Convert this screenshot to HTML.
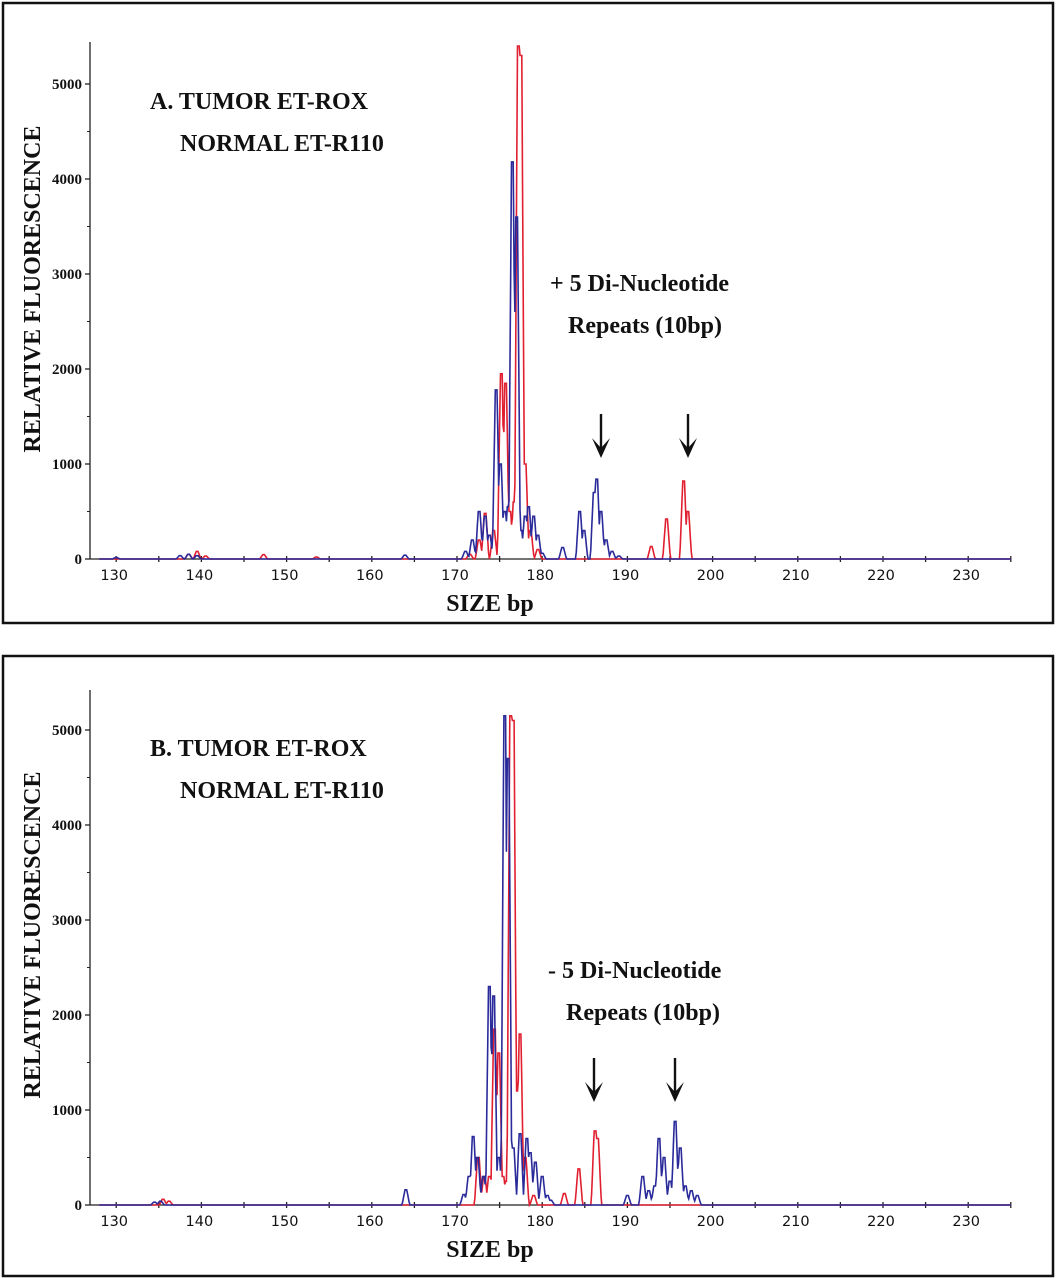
<!DOCTYPE html>
<html><head><meta charset="utf-8"><style>
html,body{margin:0;padding:0;background:#fff;}
svg{display:block;}
.tl{font-family:"DejaVu Sans","Liberation Sans",sans-serif;font-size:14.5px;fill:#111;}
.yl{font-family:"Liberation Serif",serif;font-weight:bold;font-size:15px;fill:#111;}
.tt{font-family:"Liberation Serif",serif;font-weight:bold;font-size:24px;fill:#111;}
</style></head><body>
<svg id="chart" width="1057" height="1280"></svg>
<script>
const xTicks=[130,140,150,160,170,180,190,200,210,220,230];
const yTicks=[0,1000,2000,3000,4000,5000];
// Panel A peaks: [bp center, height]
const aBluePeaks=[[130,15],[137.5,35],[138.5,50],[139.5,35],[163.9,40],[171,80],[171.8,200],[172.6,500],[173.3,450],[173.8,250],[174.6,1780],[175.1,1000],[175.6,500],[176,550],[176.5,4180],[177,3600],[177.5,300],[178,450],[178.4,550],[179,450],[179.5,250],[180,60],[182.4,120],[184.4,500],[184.9,300],[186.1,700],[186.4,840],[186.9,500],[187.5,200],[188.2,80],[189,30]];
const aRedPeaks=[[138.5,50],[139.5,80],[140.5,30],[147.3,45],[153.5,20],[171.5,50],[172.6,200],[173.3,480],[174.3,300],[175.2,1950],[175.7,1850],[176.2,500],[176.7,600],[177.2,5400],[177.5,5300],[178,1000],[178.6,300],[179.5,100],[192.8,130],[194.6,420],[196.6,820],[197.1,500]];
// Panel B peaks
const bBluePeaks=[[134.5,30],[135.2,40],[164,160],[170.8,110],[171.4,300],[171.9,720],[172.4,500],[173.1,300],[173.8,2300],[174.3,2200],[174.9,500],[175.6,5150],[176,4700],[176.6,600],[177.4,750],[178.2,700],[178.6,550],[179.2,450],[180,300],[180.6,100],[181,50],[190,100],[191.8,300],[192.5,150],[193.2,200],[193.7,700],[194.3,500],[195,250],[195.6,880],[196.2,600],[196.8,200],[197.5,150],[198.2,100]];
const bRedPeaks=[[135.5,60],[136.2,40],[172.5,500],[173.2,300],[173.8,300],[174.4,1850],[174.9,1600],[175.4,300],[175.8,250],[176.3,5150],[176.6,5100],[177.1,1200],[177.4,1800],[178,500],[179,100],[182.6,120],[184.3,380],[186.2,780],[186.5,700]];

const NS="http://www.w3.org/2000/svg";
const svg=document.getElementById('chart');
function mk(tag,attrs,parent){const e=document.createElementNS(NS,tag);for(const k in attrs)e.setAttribute(k,attrs[k]);(parent||svg).appendChild(e);return e;}

function panel(cfg){
  const g=mk('g',{});
  
  
  const border=mk('rect',{x:cfg.bx,y:cfg.by,width:cfg.bw,height:cfg.bh,fill:'none',stroke:'#111','stroke-width':2.5},g);
  
  
  const X=v=>244+(v-145)*8.52;
  const Y=v=>cfg.y0-v*0.095;
  const ya=mk('line',{x1:90,y1:cfg.ytop,x2:90,y2:cfg.y0,stroke:'#222','stroke-width':1.3},g);
  
  
  const xa=mk('line',{x1:90,y1:cfg.y0,x2:1011,y2:cfg.y0,stroke:'#222','stroke-width':1.3},g);
  
  
  for(let v=500;v<=5000;v+=500){mk('line',{x1:87,y1:Y(v),x2:90,y2:Y(v),stroke:'#222'},g);}
  yTicks.forEach(v=>{
    mk('line',{x1:85,y1:Y(v),x2:90,y2:Y(v),stroke:'#222','stroke-width':1.3},g);
    const t=mk('text',{x:82,y:Y(v)+5,'text-anchor':'end',class:'yl'},g);t.textContent=v;
    
    
  });
  for(let v=130;v<=235;v+=5){mk('line',{x1:X(v),y1:cfg.y0-3,x2:X(v),y2:cfg.y0+3,stroke:'#222','stroke-width':1.3},g);}
  xTicks.forEach(v=>{
    const t=mk('text',{x:X(v)-2,y:cfg.y0+21,'text-anchor':'middle',class:'tl'},g);t.textContent=v;
    
    
  });
  function trace(peaks,color,nm){
    let pts=[];
    for(let i=0;i<=1070;i++){
      const x=128+i*0.1;let h=0;
      peaks.forEach(p=>{const d=Math.abs(x-p[0]);const w=0.45;if(d<w){h=Math.max(h,p[1]*Math.min(1,(1-d/w)*1.3));}});
      pts.push(X(x).toFixed(1)+','+Y(h).toFixed(1));
    }
    const pl=mk('polyline',{points:pts.join(' '),fill:'none',stroke:color,'stroke-width':1.6},g);
    
    
  }
  trace(cfg.red,'#e02030','tumor-rox-trace');
  trace(cfg.blue,'#2a2a9a','normal-r110-trace');
  const lines=[[150,cfg.ty,cfg.t1,'panel-title'],[180,cfg.ty+42,'NORMAL ET-R110','panel-subtitle'],[cfg.nx,cfg.ny,cfg.t3,'repeat-annotation'],[cfg.nx+18,cfg.ny+42,'Repeats (10bp)','repeat-annotation-2']];
  lines.forEach(l=>{const t=mk('text',{x:l[0],y:l[1],class:'tt'},g);t.textContent=l[2];
    
    });
  const st=mk('text',{x:490,y:cfg.y0+52,'text-anchor':'middle',class:'tt','font-size':'22'},g);st.textContent='SIZE bp';
  
  
  const yt=mk('text',{x:0,y:0,'text-anchor':'middle',class:'tt',transform:`translate(40,${cfg.y0-270}) rotate(-90)`},g);yt.textContent='RELATIVE FLUORESCENCE';
  
  
  cfg.arrows.forEach(ax=>{
    const a=mk('g',{},g);
    
    
    mk('line',{x1:ax,y1:cfg.ay,x2:ax,y2:cfg.ay+38,stroke:'#111','stroke-width':2.4},a);
    mk('polygon',{points:`${ax-9},${cfg.ay+24} ${ax},${cfg.ay+44} ${ax+9},${cfg.ay+24} ${ax},${cfg.ay+34}`,fill:'#111'},a);
  });
}
panel({name:'panel-a',bx:3,by:3,bw:1050,bh:620,y0:559,ytop:42,red:aRedPeaks,blue:aBluePeaks,ty:109,t1:'A. TUMOR ET-ROX',nx:550,ny:291,t3:'+ 5 Di-Nucleotide',arrows:[601,688],ay:414});
panel({name:'panel-b',bx:3,by:656,bw:1050,bh:620,y0:1205,ytop:690,red:bRedPeaks,blue:bBluePeaks,ty:756,t1:'B. TUMOR ET-ROX',nx:548,ny:978,t3:'- 5 Di-Nucleotide',arrows:[594,675],ay:1058});
</script>
</body></html>
